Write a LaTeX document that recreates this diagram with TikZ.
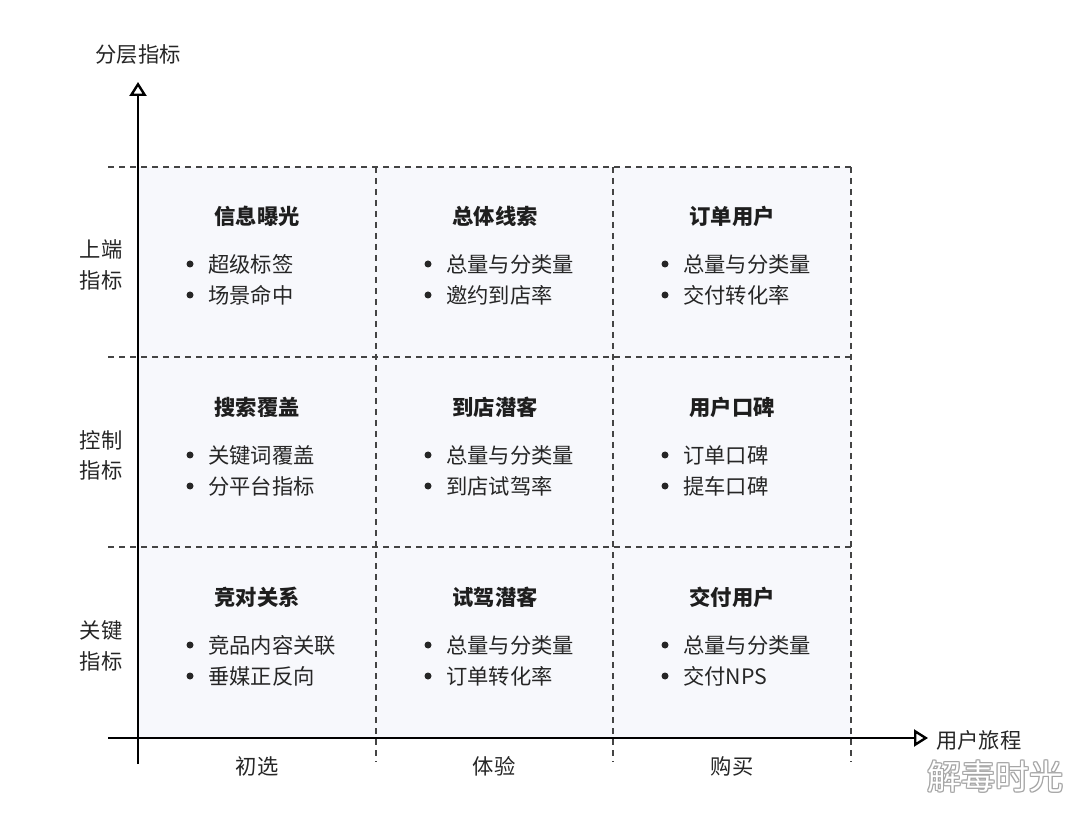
\documentclass[tikz,border=0pt]{standalone}
\usepackage{fontspec}
\setmainfont{Noto Sans CJK SC}
\usetikzlibrary{arrows.meta}
\definecolor{cellfill}{HTML}{F7F8FC}
\definecolor{txt}{HTML}{262626}
\definecolor{ttl}{HTML}{1E1E1E}
\definecolor{dashc}{HTML}{444444}
\tikzset{
  title/.style={font=\fontsize{21.3}{24}\selectfont\bfseries, text=ttl, inner sep=0pt, anchor=center},
  item/.style={font=\fontsize{21.3}{24}\selectfont, text=txt, inner sep=0pt, anchor=west},
  bul/.style={circle, fill=txt, inner sep=0pt, minimum size=7pt},
  lab/.style={font=\fontsize{21.3}{24}\selectfont, text=txt, inner sep=0pt, anchor=center},
  grid/.style={dashc, line width=1.3pt, dash pattern=on 6pt off 5pt},
  axis/.style={black, line width=2.8pt, -{Triangle[open, length=14pt, width=17pt, line width=2.4pt]}},
}
\begin{document}
\begin{tikzpicture}[x=1pt,y=-1pt]
\useasboundingbox (0,0) rectangle (1080,818);
\fill[white] (0,0) rectangle (1080,818);
\fill[cellfill] (138,167) rectangle (851,738);
% dashed grid
\foreach \yy in {167,357,547} \draw[grid] (108,\yy) -- (851,\yy);
\foreach \xx in {376,613,851} \draw[grid] (\xx,167) -- (\xx,762);
% axes
\coordinate (ybot) at (138,764);
\coordinate (ytop) at (138,82);
\coordinate (xl) at (108,738);
\coordinate (xr) at (928,738);
\draw[axis] (ybot) -- (ytop);
\draw[axis] (xl) -- (xr);
% axis labels
\node[lab] (yl) at (138,55) {分层指标};
\node[lab, anchor=west] (xlab) at (936,740) {用户旅程};
% row labels
\node[lab] (r1a) at (101,249) {上端};
\node[lab] (r1b) at (101,280) {指标};
\node[lab] (r2a) at (101,440) {控制};
\node[lab] (r2b) at (101,470) {指标};
\node[lab] (r3a) at (101,630) {关键};
\node[lab] (r3b) at (101,661) {指标};
% column labels
\node[lab] (c1) at (257,766) {初选};
\node[lab] (c2) at (494,766) {体验};
\node[lab] (c3) at (732,766) {购买};
% cells
\newcommand{\cellbox}[6]{%
  \node[title] (#1t) at (#2+119,#3) {#4};
  \node[bul] (#1b1) at (#2+52,#3+48) {};
  \node[item] (#1i1) at (#2+70,#3+48) {#5};
  \node[bul] (#1b2) at (#2+52,#3+79) {};
  \node[item] (#1i2) at (#2+70,#3+79) {#6};
}
\cellbox{a}{138}{216}{信息曝光}{超级标签}{场景命中}
\cellbox{b}{376}{216}{总体线索}{总量与分类量}{邀约到店率}
\cellbox{c}{613}{216}{订单用户}{总量与分类量}{交付转化率}
\cellbox{d}{138}{407}{搜索覆盖}{关键词覆盖}{分平台指标}
\cellbox{e}{376}{407}{到店潜客}{总量与分类量}{到店试驾率}
\cellbox{f}{613}{407}{用户口碑}{订单口碑}{提车口碑}
\cellbox{g}{138}{597}{竞对关系}{竞品内容关联}{垂媒正反向}
\cellbox{h}{376}{597}{试驾潜客}{总量与分类量}{订单转化率}
\cellbox{i}{613}{597}{交付用户}{总量与分类量}{交付NPS}
% watermark
\foreach \dx/\dy in {-1/0,1/0,0/-1,0/1,-1/-1,1/1,-1/1,1/-1}
  \node[font=\fontsize{34}{38}\selectfont, text=gray!70, inner sep=0pt] at (995+\dx,777+\dy) {解毒时光};
\node[font=\fontsize{34}{38}\selectfont, text=white, inner sep=0pt] (wm) at (995,777) {解毒时光};
\end{tikzpicture}
\end{document}
